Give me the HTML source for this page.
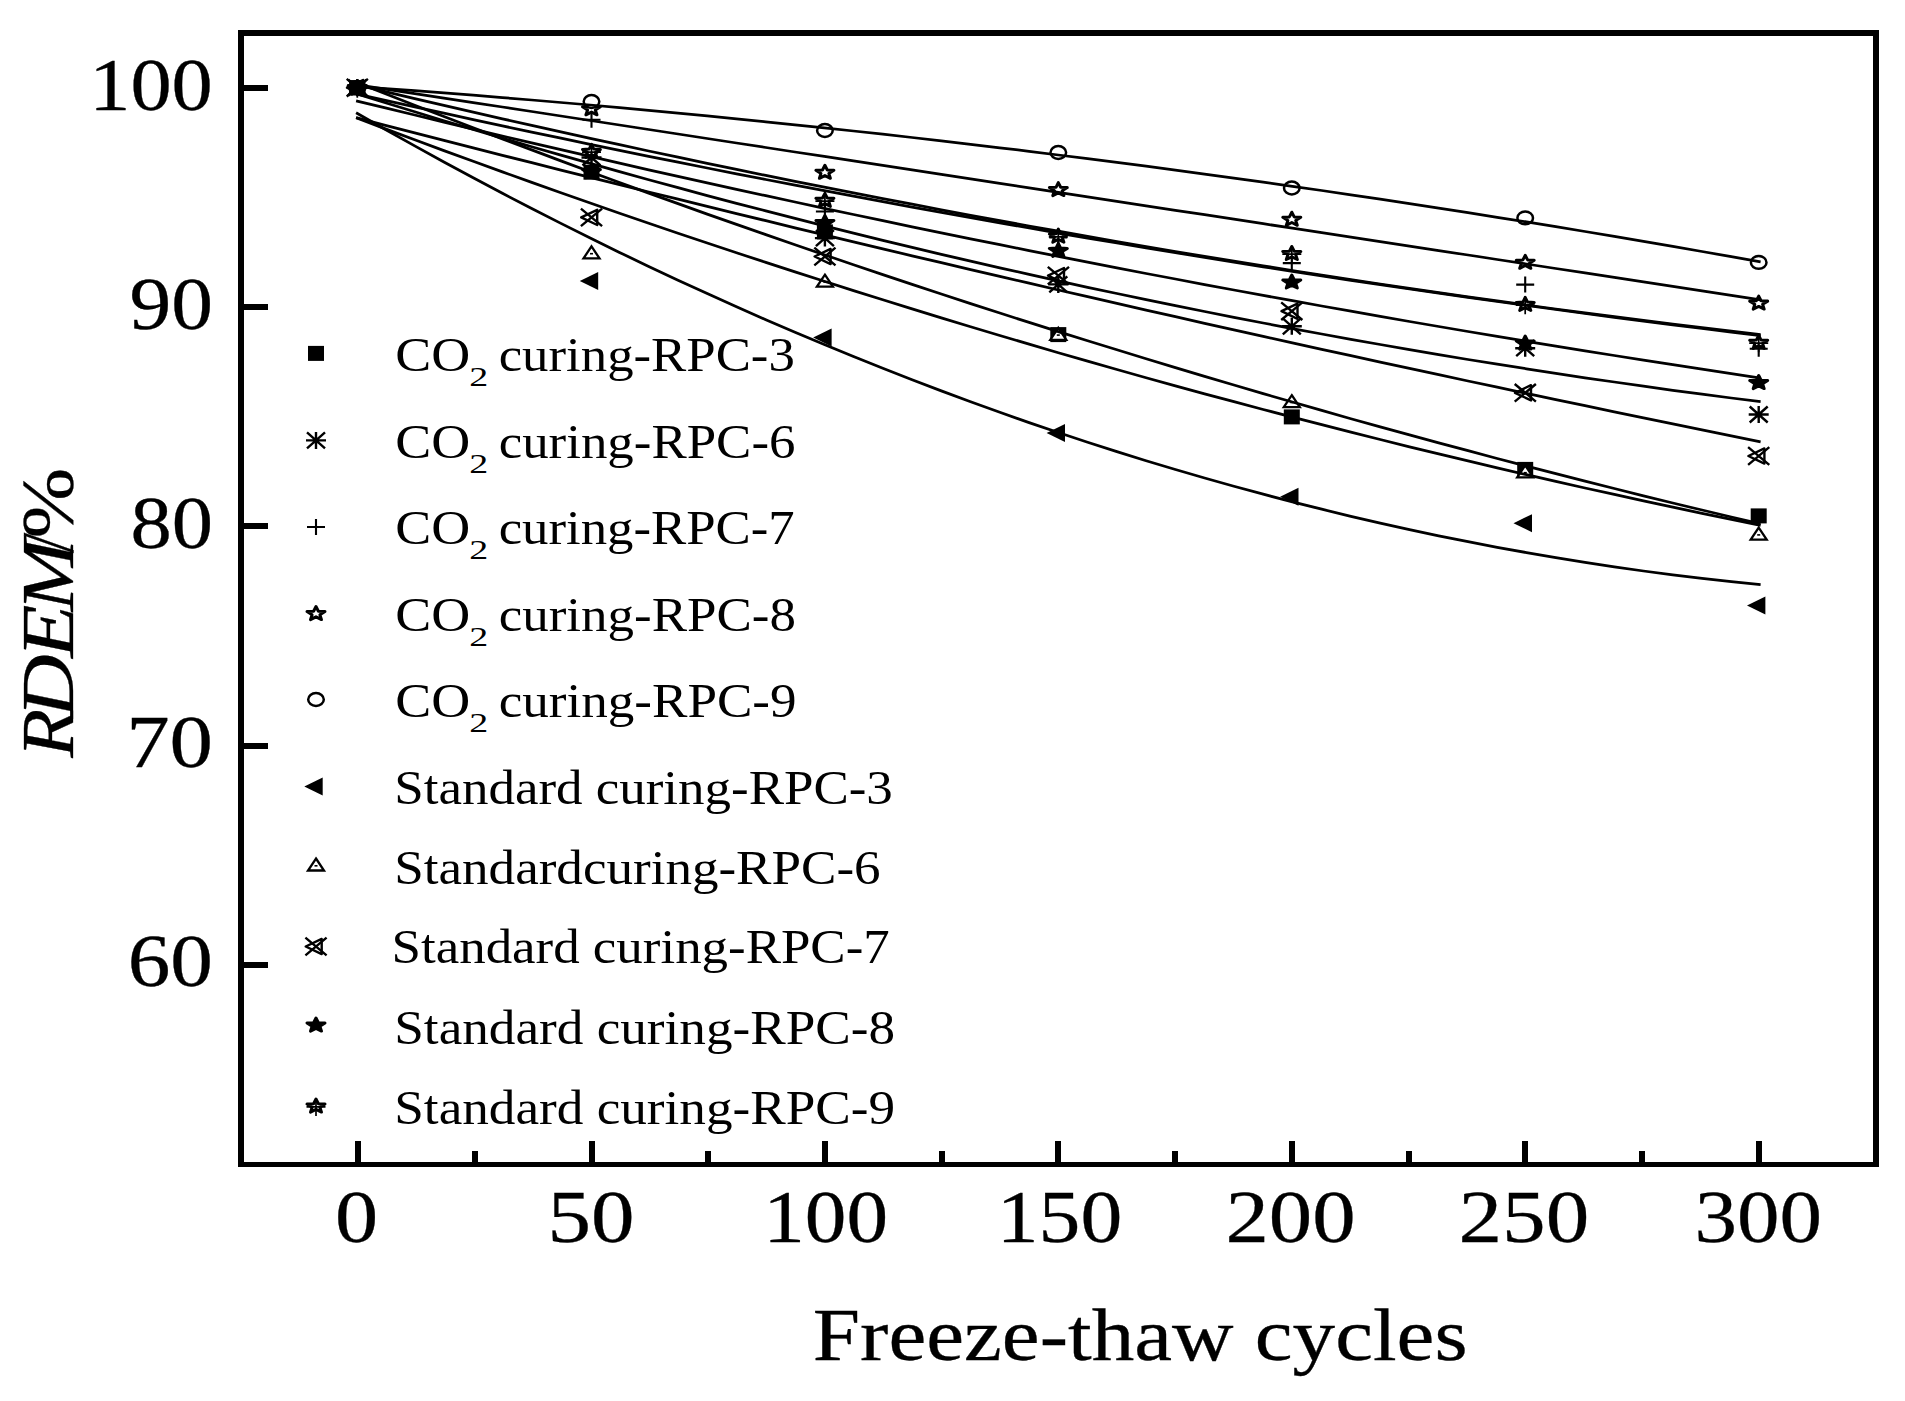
<!DOCTYPE html>
<html><head><meta charset="utf-8"><title>RDEM vs Freeze-thaw cycles</title>
<style>html,body{margin:0;padding:0;background:#fff;}svg{display:block;}</style>
</head><body>
<svg width="1905" height="1401" viewBox="0 0 1905 1401">
<rect x="0" y="0" width="1905" height="1401" fill="#fff"/>
<g fill="#000" shape-rendering="crispEdges">
<rect x="238" y="30" width="1641" height="6"/>
<rect x="238" y="1162" width="1641" height="5"/>
<rect x="238" y="30" width="6" height="1137"/>
<rect x="1873" y="30" width="6" height="1137"/>
<rect x="244" y="84.9" width="24" height="6"/>
<rect x="244" y="304.2" width="24" height="6"/>
<rect x="244" y="523.4" width="24" height="6"/>
<rect x="244" y="742.7" width="24" height="6"/>
<rect x="244" y="961.9" width="24" height="6"/>
<rect x="355.0" y="1141" width="6" height="21"/>
<rect x="471.7" y="1151" width="6" height="11"/>
<rect x="588.5" y="1141" width="6" height="21"/>
<rect x="705.2" y="1151" width="6" height="11"/>
<rect x="821.9" y="1141" width="6" height="21"/>
<rect x="938.6" y="1151" width="6" height="11"/>
<rect x="1055.3" y="1141" width="6" height="21"/>
<rect x="1172.1" y="1151" width="6" height="11"/>
<rect x="1288.8" y="1141" width="6" height="21"/>
<rect x="1405.5" y="1151" width="6" height="11"/>
<rect x="1522.2" y="1141" width="6" height="21"/>
<rect x="1639.0" y="1151" width="6" height="11"/>
<rect x="1755.7" y="1141" width="6" height="21"/>
</g>
<g>
<rect x="349.3" y="80.2" width="16" height="15" fill="#000"/>
<rect x="583.5" y="164.7" width="16" height="15" fill="#000"/>
<rect x="816.9" y="224.4" width="16" height="15" fill="#000"/>
<rect x="1050.3" y="327.1" width="16" height="15" fill="#000"/>
<rect x="1283.8" y="409.4" width="16" height="15" fill="#000"/>
<rect x="1517.2" y="461.9" width="16" height="15" fill="#000"/>
<rect x="1750.7" y="508.4" width="16" height="15" fill="#000"/>
<path d="M347.3,87.7h20M357.3,79.2v17M348.3,79.7l18,16M348.3,95.7l18,-16" stroke="#000" stroke-width="2.4" fill="none"/>
<path d="M581.5,157.5h20M591.5,149.0v17M582.5,149.5l18,16M582.5,165.5l18,-16" stroke="#000" stroke-width="2.4" fill="none"/>
<path d="M814.9,238.1h20M824.9,229.6v17M815.9,230.1l18,16M815.9,246.1l18,-16" stroke="#000" stroke-width="2.4" fill="none"/>
<path d="M1048.3,284.4h20M1058.3,275.9v17M1049.3,276.4l18,16M1049.3,292.4l18,-16" stroke="#000" stroke-width="2.4" fill="none"/>
<path d="M1281.8,326.3h20M1291.8,317.8v17M1282.8,318.3l18,16M1282.8,334.3l18,-16" stroke="#000" stroke-width="2.4" fill="none"/>
<path d="M1515.2,348.2h20M1525.2,339.7v17M1516.2,340.2l18,16M1516.2,356.2l18,-16" stroke="#000" stroke-width="2.4" fill="none"/>
<path d="M1748.7,414.5h20M1758.7,406.0v17M1749.7,406.5l18,16M1749.7,422.5l18,-16" stroke="#000" stroke-width="2.4" fill="none"/>
<path d="M348.3,87.7h18M357.3,79.7v16" stroke="#000" stroke-width="2.1" fill="none"/>
<path d="M582.5,119.7h18M591.5,111.7v16" stroke="#000" stroke-width="2.1" fill="none"/>
<path d="M815.9,211.5h18M824.9,203.5v16" stroke="#000" stroke-width="2.1" fill="none"/>
<path d="M1049.3,237.4h18M1058.3,229.4v16" stroke="#000" stroke-width="2.1" fill="none"/>
<path d="M1282.8,263.1h18M1291.8,255.1v16" stroke="#000" stroke-width="2.1" fill="none"/>
<path d="M1516.2,284.6h18M1525.2,276.6v16" stroke="#000" stroke-width="2.1" fill="none"/>
<path d="M1749.7,348.7h18M1758.7,340.7v16" stroke="#000" stroke-width="2.1" fill="none"/>
<path d="M357.3,80.8L359.7,85.4L366.3,85.7L361.2,88.9L362.8,93.8L357.3,91.0L351.8,93.8L353.4,88.9L348.3,85.7L354.9,85.4Z" fill="#fff" stroke="#000" stroke-width="3.0" stroke-linejoin="round"/>
<path d="M591.5,101.8L593.8,106.5L600.4,106.8L595.3,110.0L597.0,114.8L591.5,112.1L585.9,114.8L587.6,110.0L582.5,106.8L589.1,106.5Z" fill="#fff" stroke="#000" stroke-width="3.0" stroke-linejoin="round"/>
<path d="M824.9,165.3L827.3,170.0L833.9,170.2L828.8,173.4L830.4,178.3L824.9,175.6L819.4,178.3L821.0,173.4L815.9,170.2L822.5,170.0Z" fill="#fff" stroke="#000" stroke-width="3.0" stroke-linejoin="round"/>
<path d="M1058.3,182.6L1060.7,187.3L1067.3,187.6L1062.2,190.8L1063.9,195.6L1058.3,192.9L1052.8,195.6L1054.5,190.8L1049.4,187.6L1056.0,187.3Z" fill="#fff" stroke="#000" stroke-width="3.0" stroke-linejoin="round"/>
<path d="M1291.8,212.2L1294.2,216.9L1300.8,217.2L1295.7,220.4L1297.3,225.3L1291.8,222.5L1286.3,225.3L1287.9,220.4L1282.8,217.2L1289.4,216.9Z" fill="#fff" stroke="#000" stroke-width="3.0" stroke-linejoin="round"/>
<path d="M1525.2,255.3L1527.6,259.9L1534.2,260.2L1529.1,263.4L1530.8,268.3L1525.2,265.5L1519.7,268.3L1521.4,263.4L1516.3,260.2L1522.9,259.9Z" fill="#fff" stroke="#000" stroke-width="3.0" stroke-linejoin="round"/>
<path d="M1758.7,296.1L1761.1,300.8L1767.7,301.1L1762.6,304.2L1764.2,309.1L1758.7,306.4L1753.2,309.1L1754.8,304.2L1749.7,301.1L1756.3,300.8Z" fill="#fff" stroke="#000" stroke-width="3.0" stroke-linejoin="round"/>
<ellipse cx="357.3" cy="87.7" rx="7.8" ry="6.4" fill="#fff" stroke="#000" stroke-width="2.5"/>
<ellipse cx="591.5" cy="101.5" rx="7.8" ry="6.4" fill="#fff" stroke="#000" stroke-width="2.5"/>
<ellipse cx="824.9" cy="130.5" rx="7.8" ry="6.4" fill="#fff" stroke="#000" stroke-width="2.5"/>
<ellipse cx="1058.3" cy="152.5" rx="7.8" ry="6.4" fill="#fff" stroke="#000" stroke-width="2.5"/>
<ellipse cx="1291.8" cy="188.0" rx="7.8" ry="6.4" fill="#fff" stroke="#000" stroke-width="2.5"/>
<ellipse cx="1525.2" cy="217.9" rx="7.8" ry="6.4" fill="#fff" stroke="#000" stroke-width="2.5"/>
<ellipse cx="1758.7" cy="262.4" rx="7.8" ry="6.4" fill="#fff" stroke="#000" stroke-width="2.5"/>
<polygon points="345.6,87.7 364.0,78.7 364.0,96.7" fill="#000"/>
<polygon points="579.8,280.9 598.2,271.9 598.2,289.9" fill="#000"/>
<polygon points="813.2,337.5 831.6,328.5 831.6,346.5" fill="#000"/>
<polygon points="1046.6,433.0 1065.0,424.0 1065.0,442.0" fill="#000"/>
<polygon points="1280.1,496.8 1298.5,487.8 1298.5,505.8" fill="#000"/>
<polygon points="1513.5,523.2 1532.0,514.2 1532.0,532.2" fill="#000"/>
<polygon points="1747.0,605.5 1765.4,596.5 1765.4,614.5" fill="#000"/>
<polygon points="357.3,82.2 365.3,94.2 349.3,94.2" fill="#fff" stroke="#000" stroke-width="2.3"/><rect x="355.8" y="88.7" width="3" height="1.6" fill="#000"/>
<polygon points="591.5,246.4 599.5,258.4 583.5,258.4" fill="#fff" stroke="#000" stroke-width="2.3"/><rect x="590.0" y="252.9" width="3" height="1.6" fill="#000"/>
<polygon points="824.9,274.7 832.9,286.7 816.9,286.7" fill="#fff" stroke="#000" stroke-width="2.3"/><rect x="823.4" y="281.2" width="3" height="1.6" fill="#000"/>
<polygon points="1058.3,327.8 1066.3,339.8 1050.3,339.8" fill="#fff" stroke="#000" stroke-width="2.3"/><rect x="1056.8" y="334.3" width="3" height="1.6" fill="#000"/>
<polygon points="1291.8,395.2 1299.8,407.2 1283.8,407.2" fill="#fff" stroke="#000" stroke-width="2.3"/><rect x="1290.3" y="401.7" width="3" height="1.6" fill="#000"/>
<polygon points="1525.2,465.4 1533.2,477.4 1517.2,477.4" fill="#fff" stroke="#000" stroke-width="2.3"/><rect x="1523.8" y="471.9" width="3" height="1.6" fill="#000"/>
<polygon points="1758.7,527.6 1766.7,539.6 1750.7,539.6" fill="#fff" stroke="#000" stroke-width="2.3"/><rect x="1757.2" y="534.1" width="3" height="1.6" fill="#000"/>
<path d="M346.7,78.9l21.2,17.6M346.7,96.5l21.2,-17.6" stroke="#000" stroke-width="2.4" fill="none"/><polygon points="347.0,87.7 363.0,80.1 363.0,95.3" fill="none" stroke="#000" stroke-width="2.4" stroke-linejoin="round"/>
<path d="M580.9,208.6l21.2,17.6M580.9,226.2l21.2,-17.6" stroke="#000" stroke-width="2.4" fill="none"/><polygon points="581.2,217.4 597.2,209.8 597.2,225.0" fill="none" stroke="#000" stroke-width="2.4" stroke-linejoin="round"/>
<path d="M814.3,247.7l21.2,17.6M814.3,265.3l21.2,-17.6" stroke="#000" stroke-width="2.4" fill="none"/><polygon points="814.6,256.5 830.6,248.9 830.6,264.1" fill="none" stroke="#000" stroke-width="2.4" stroke-linejoin="round"/>
<path d="M1047.8,266.8l21.2,17.6M1047.8,284.4l21.2,-17.6" stroke="#000" stroke-width="2.4" fill="none"/><polygon points="1048.0,275.6 1064.0,268.0 1064.0,283.2" fill="none" stroke="#000" stroke-width="2.4" stroke-linejoin="round"/>
<path d="M1281.2,302.4l21.2,17.6M1281.2,320.0l21.2,-17.6" stroke="#000" stroke-width="2.4" fill="none"/><polygon points="1281.5,311.2 1297.5,303.6 1297.5,318.8" fill="none" stroke="#000" stroke-width="2.4" stroke-linejoin="round"/>
<path d="M1514.7,384.0l21.2,17.6M1514.7,401.6l21.2,-17.6" stroke="#000" stroke-width="2.4" fill="none"/><polygon points="1515.0,392.8 1531.0,385.2 1531.0,400.4" fill="none" stroke="#000" stroke-width="2.4" stroke-linejoin="round"/>
<path d="M1748.1,447.2l21.2,17.6M1748.1,464.8l21.2,-17.6" stroke="#000" stroke-width="2.4" fill="none"/><polygon points="1748.4,456.0 1764.4,448.4 1764.4,463.6" fill="none" stroke="#000" stroke-width="2.4" stroke-linejoin="round"/>
<path d="M357.3,80.8L359.7,85.4L366.3,85.7L361.2,88.9L362.8,93.8L357.3,91.0L351.8,93.8L353.4,88.9L348.3,85.7L354.9,85.4Z" fill="#000" stroke="#000" stroke-width="3.0" stroke-linejoin="round"/>
<path d="M591.5,164.6L593.8,169.3L600.4,169.6L595.3,172.8L597.0,177.6L591.5,174.9L585.9,177.6L587.6,172.8L582.5,169.6L589.1,169.3Z" fill="#000" stroke="#000" stroke-width="3.0" stroke-linejoin="round"/>
<path d="M824.9,215.5L827.3,220.2L833.9,220.5L828.8,223.7L830.4,228.5L824.9,225.8L819.4,228.5L821.0,223.7L815.9,220.5L822.5,220.2Z" fill="#000" stroke="#000" stroke-width="3.0" stroke-linejoin="round"/>
<path d="M1058.3,243.4L1060.7,248.1L1067.3,248.4L1062.2,251.6L1063.9,256.4L1058.3,253.7L1052.8,256.4L1054.5,251.6L1049.4,248.4L1056.0,248.1Z" fill="#000" stroke="#000" stroke-width="3.0" stroke-linejoin="round"/>
<path d="M1291.8,275.0L1294.2,279.7L1300.8,280.0L1295.7,283.2L1297.3,288.0L1291.8,285.3L1286.3,288.0L1287.9,283.2L1282.8,280.0L1289.4,279.7Z" fill="#000" stroke="#000" stroke-width="3.0" stroke-linejoin="round"/>
<path d="M1525.2,336.0L1527.6,340.7L1534.2,341.0L1529.1,344.2L1530.8,349.1L1525.2,346.3L1519.7,349.1L1521.4,344.2L1516.3,341.0L1522.9,340.7Z" fill="#000" stroke="#000" stroke-width="3.0" stroke-linejoin="round"/>
<path d="M1758.7,375.5L1761.1,380.2L1767.7,380.5L1762.6,383.7L1764.2,388.6L1758.7,385.8L1753.2,388.6L1754.8,383.7L1749.7,380.5L1756.3,380.2Z" fill="#000" stroke="#000" stroke-width="3.0" stroke-linejoin="round"/>
<path d="M357.3,80.8L359.7,85.4L366.3,85.7L361.2,88.9L362.8,93.8L357.3,91.0L351.8,93.8L353.4,88.9L348.3,85.7L354.9,85.4Z" fill="#fff" stroke="#000" stroke-width="3.0" stroke-linejoin="round"/><path d="M347.8,88.5h19M357.3,79.7v18" stroke="#000" stroke-width="1.7" fill="none"/>
<path d="M591.5,144.4L593.8,149.1L600.4,149.4L595.3,152.6L597.0,157.4L591.5,154.7L585.9,157.4L587.6,152.6L582.5,149.4L589.1,149.1Z" fill="#fff" stroke="#000" stroke-width="3.0" stroke-linejoin="round"/><path d="M582.0,152.2h19M591.5,143.4v18" stroke="#000" stroke-width="1.7" fill="none"/>
<path d="M824.9,193.4L827.3,198.0L833.9,198.3L828.8,201.5L830.4,206.4L824.9,203.6L819.4,206.4L821.0,201.5L815.9,198.3L822.5,198.0Z" fill="#fff" stroke="#000" stroke-width="3.0" stroke-linejoin="round"/><path d="M815.4,201.1h19M824.9,192.3v18" stroke="#000" stroke-width="1.7" fill="none"/>
<path d="M1058.3,229.1L1060.7,233.8L1067.3,234.1L1062.2,237.3L1063.9,242.2L1058.3,239.4L1052.8,242.2L1054.5,237.3L1049.4,234.1L1056.0,233.8Z" fill="#fff" stroke="#000" stroke-width="3.0" stroke-linejoin="round"/><path d="M1048.8,236.9h19M1058.3,228.1v18" stroke="#000" stroke-width="1.7" fill="none"/>
<path d="M1291.8,246.5L1294.2,251.2L1300.8,251.4L1295.7,254.6L1297.3,259.5L1291.8,256.8L1286.3,259.5L1287.9,254.6L1282.8,251.4L1289.4,251.2Z" fill="#fff" stroke="#000" stroke-width="3.0" stroke-linejoin="round"/><path d="M1282.3,254.2h19M1291.8,245.4v18" stroke="#000" stroke-width="1.7" fill="none"/>
<path d="M1525.2,297.4L1527.6,302.1L1534.2,302.4L1529.1,305.6L1530.8,310.4L1525.2,307.7L1519.7,310.4L1521.4,305.6L1516.3,302.4L1522.9,302.1Z" fill="#fff" stroke="#000" stroke-width="3.0" stroke-linejoin="round"/><path d="M1515.8,305.1h19M1525.2,296.3v18" stroke="#000" stroke-width="1.7" fill="none"/>
<path d="M1758.7,335.4L1761.1,340.1L1767.7,340.3L1762.6,343.5L1764.2,348.4L1758.7,345.7L1753.2,348.4L1754.8,343.5L1749.7,340.3L1756.3,340.1Z" fill="#fff" stroke="#000" stroke-width="3.0" stroke-linejoin="round"/><path d="M1749.2,343.1h19M1758.7,334.3v18" stroke="#000" stroke-width="1.7" fill="none"/>
<rect x="349.3" y="80.2" width="16" height="15" fill="#000"/>
</g>
<g fill="none" stroke="#000" stroke-width="2.75">
<polyline points="356.1,86.5 385.4,88.6 414.7,90.7 443.9,92.9 473.2,95.2 502.4,97.6 531.7,100.0 560.9,102.5 590.2,105.0 619.5,107.7 648.7,110.3 678.0,113.1 707.2,115.9 736.5,118.8 765.8,121.8 795.0,124.8 824.3,127.9 853.5,131.0 882.8,134.2 912.1,137.5 941.3,140.9 970.6,144.3 999.8,147.8 1029.1,151.3 1058.3,155.0 1087.6,158.6 1116.9,162.4 1146.1,166.2 1175.4,170.1 1204.6,174.1 1233.9,178.1 1263.2,182.2 1292.4,186.3 1321.7,190.5 1350.9,194.8 1380.2,199.2 1409.5,203.6 1438.7,208.1 1468.0,212.6 1497.2,217.3 1526.5,221.9 1555.8,226.7 1585.0,231.5 1614.3,236.4 1643.5,241.4 1672.8,246.4 1702.0,251.5 1731.3,256.6 1760.6,261.8"/>
<polyline points="356.1,84.6 385.4,89.1 414.7,93.6 443.9,98.1 473.2,102.6 502.4,107.0 531.7,111.5 560.9,116.0 590.2,120.5 619.5,125.0 648.7,129.5 678.0,134.0 707.2,138.5 736.5,143.0 765.8,147.5 795.0,152.0 824.3,156.4 853.5,160.9 882.8,165.4 912.1,169.9 941.3,174.4 970.6,178.9 999.8,183.4 1029.1,187.8 1058.3,192.3 1087.6,196.8 1116.9,201.3 1146.1,205.8 1175.4,210.3 1204.6,214.7 1233.9,219.2 1263.2,223.7 1292.4,228.2 1321.7,232.7 1350.9,237.1 1380.2,241.6 1409.5,246.1 1438.7,250.6 1468.0,255.0 1497.2,259.5 1526.5,264.0 1555.8,268.5 1585.0,272.9 1614.3,277.4 1643.5,281.9 1672.8,286.4 1702.0,290.8 1731.3,295.3 1760.6,299.8"/>
<polyline points="356.1,84.7 385.4,91.7 414.7,98.6 443.9,105.4 473.2,112.1 502.4,118.8 531.7,125.4 560.9,131.9 590.2,138.3 619.5,144.7 648.7,151.0 678.0,157.2 707.2,163.3 736.5,169.4 765.8,175.4 795.0,181.3 824.3,187.2 853.5,192.9 882.8,198.6 912.1,204.2 941.3,209.8 970.6,215.3 999.8,220.7 1029.1,226.0 1058.3,231.2 1087.6,236.4 1116.9,241.5 1146.1,246.5 1175.4,251.5 1204.6,256.3 1233.9,261.1 1263.2,265.8 1292.4,270.5 1321.7,275.1 1350.9,279.6 1380.2,284.0 1409.5,288.3 1438.7,292.6 1468.0,296.8 1497.2,300.9 1526.5,305.0 1555.8,309.0 1585.0,312.9 1614.3,316.7 1643.5,320.4 1672.8,324.1 1702.0,327.7 1731.3,331.2 1760.6,334.7"/>
<polyline points="356.1,93.8 385.4,100.4 414.7,106.8 443.9,113.2 473.2,119.6 502.4,125.9 531.7,132.1 560.9,138.2 590.2,144.3 619.5,150.3 648.7,156.3 678.0,162.2 707.2,168.0 736.5,173.8 765.8,179.5 795.0,185.1 824.3,190.7 853.5,196.2 882.8,201.7 912.1,207.1 941.3,212.4 970.6,217.7 999.8,222.9 1029.1,228.0 1058.3,233.1 1087.6,238.1 1116.9,243.0 1146.1,247.9 1175.4,252.7 1204.6,257.5 1233.9,262.2 1263.2,266.8 1292.4,271.3 1321.7,275.8 1350.9,280.3 1380.2,284.6 1409.5,289.0 1438.7,293.2 1468.0,297.4 1497.2,301.5 1526.5,305.5 1555.8,309.5 1585.0,313.5 1614.3,317.3 1643.5,321.1 1672.8,324.9 1702.0,328.5 1731.3,332.1 1760.6,335.7"/>
<polyline points="356.1,100.8 385.4,107.9 414.7,115.0 443.9,122.1 473.2,129.1 502.4,136.0 531.7,142.9 560.9,149.7 590.2,156.4 619.5,163.1 648.7,169.8 678.0,176.3 707.2,182.8 736.5,189.3 765.8,195.7 795.0,202.0 824.3,208.3 853.5,214.5 882.8,220.7 912.1,226.8 941.3,232.8 970.6,238.8 999.8,244.7 1029.1,250.6 1058.3,256.4 1087.6,262.2 1116.9,267.8 1146.1,273.5 1175.4,279.0 1204.6,284.6 1233.9,290.0 1263.2,295.4 1292.4,300.7 1321.7,306.0 1350.9,311.2 1380.2,316.4 1409.5,321.5 1438.7,326.5 1468.0,331.5 1497.2,336.4 1526.5,341.3 1555.8,346.1 1585.0,350.8 1614.3,355.5 1643.5,360.2 1672.8,364.7 1702.0,369.2 1731.3,373.7 1760.6,378.1"/>
<polyline points="356.1,93.6 385.4,102.7 414.7,111.8 443.9,120.7 473.2,129.4 502.4,138.1 531.7,146.7 560.9,155.1 590.2,163.4 619.5,171.6 648.7,179.7 678.0,187.7 707.2,195.6 736.5,203.3 765.8,210.9 795.0,218.4 824.3,225.8 853.5,233.1 882.8,240.3 912.1,247.3 941.3,254.3 970.6,261.1 999.8,267.8 1029.1,274.4 1058.3,280.9 1087.6,287.3 1116.9,293.5 1146.1,299.6 1175.4,305.6 1204.6,311.5 1233.9,317.3 1263.2,323.0 1292.4,328.6 1321.7,334.0 1350.9,339.3 1380.2,344.5 1409.5,349.6 1438.7,354.6 1468.0,359.5 1497.2,364.2 1526.5,368.8 1555.8,373.4 1585.0,377.8 1614.3,382.0 1643.5,386.2 1672.8,390.3 1702.0,394.2 1731.3,398.0 1760.6,401.7"/>
<polyline points="356.1,117.7 385.4,125.3 414.7,132.9 443.9,140.4 473.2,147.9 502.4,155.3 531.7,162.7 560.9,170.1 590.2,177.4 619.5,184.7 648.7,192.0 678.0,199.2 707.2,206.4 736.5,213.6 765.8,220.7 795.0,227.8 824.3,234.8 853.5,241.8 882.8,248.8 912.1,255.8 941.3,262.7 970.6,269.6 999.8,276.4 1029.1,283.2 1058.3,290.0 1087.6,296.7 1116.9,303.4 1146.1,310.1 1175.4,316.7 1204.6,323.3 1233.9,329.8 1263.2,336.4 1292.4,342.8 1321.7,349.3 1350.9,355.7 1380.2,362.1 1409.5,368.4 1438.7,374.7 1468.0,381.0 1497.2,387.2 1526.5,393.4 1555.8,399.6 1585.0,405.7 1614.3,411.8 1643.5,417.9 1672.8,423.9 1702.0,429.9 1731.3,435.8 1760.6,441.8"/>
<polyline points="356.1,82.3 385.4,93.8 414.7,105.2 443.9,116.5 473.2,127.8 502.4,138.9 531.7,149.9 560.9,160.9 590.2,171.7 619.5,182.5 648.7,193.1 678.0,203.6 707.2,214.1 736.5,224.4 765.8,234.6 795.0,244.8 824.3,254.8 853.5,264.8 882.8,274.6 912.1,284.4 941.3,294.0 970.6,303.6 999.8,313.0 1029.1,322.4 1058.3,331.6 1087.6,340.8 1116.9,349.8 1146.1,358.8 1175.4,367.6 1204.6,376.4 1233.9,385.0 1263.2,393.6 1292.4,402.0 1321.7,410.4 1350.9,418.7 1380.2,426.8 1409.5,434.9 1438.7,442.8 1468.0,450.7 1497.2,458.5 1526.5,466.1 1555.8,473.7 1585.0,481.2 1614.3,488.5 1643.5,495.8 1672.8,503.0 1702.0,510.0 1731.3,517.0 1760.6,523.9"/>
<polyline points="356.1,117.8 385.4,128.9 414.7,139.8 443.9,150.6 473.2,161.3 502.4,171.9 531.7,182.4 560.9,192.8 590.2,203.0 619.5,213.2 648.7,223.3 678.0,233.2 707.2,243.0 736.5,252.8 765.8,262.4 795.0,271.9 824.3,281.3 853.5,290.6 882.8,299.8 912.1,308.9 941.3,317.9 970.6,326.7 999.8,335.5 1029.1,344.1 1058.3,352.7 1087.6,361.1 1116.9,369.5 1146.1,377.7 1175.4,385.8 1204.6,393.8 1233.9,401.7 1263.2,409.5 1292.4,417.1 1321.7,424.7 1350.9,432.2 1380.2,439.5 1409.5,446.8 1438.7,453.9 1468.0,460.9 1497.2,467.8 1526.5,474.7 1555.8,481.4 1585.0,488.0 1614.3,494.4 1643.5,500.8 1672.8,507.1 1702.0,513.3 1731.3,519.3 1760.6,525.3"/>
<polyline points="356.1,112.8 385.4,129.5 414.7,145.9 443.9,162.0 473.2,177.8 502.4,193.3 531.7,208.5 560.9,223.4 590.2,238.0 619.5,252.4 648.7,266.4 678.0,280.2 707.2,293.6 736.5,306.8 765.8,319.7 795.0,332.3 824.3,344.6 853.5,356.6 882.8,368.3 912.1,379.7 941.3,390.9 970.6,401.7 999.8,412.3 1029.1,422.6 1058.3,432.5 1087.6,442.2 1116.9,451.6 1146.1,460.7 1175.4,469.5 1204.6,478.0 1233.9,486.3 1263.2,494.2 1292.4,501.9 1321.7,509.2 1350.9,516.3 1380.2,523.1 1409.5,529.6 1438.7,535.8 1468.0,541.7 1497.2,547.3 1526.5,552.6 1555.8,557.6 1585.0,562.4 1614.3,566.8 1643.5,571.0 1672.8,574.8 1702.0,578.4 1731.3,581.7 1760.6,584.7"/>
</g>
<g>
<rect x="308.0" y="345.9" width="16" height="15" fill="#000"/>
<path d="M306.0,440.4h20M316.0,431.9v17M307.0,432.4l18,16M307.0,448.4l18,-16" stroke="#000" stroke-width="2.4" fill="none"/>
<path d="M307.0,527.0h18M316.0,519.0v16" stroke="#000" stroke-width="2.1" fill="none"/>
<path d="M316.0,606.5L318.4,611.2L325.0,611.5L319.9,614.7L321.5,619.6L316.0,616.8L310.5,619.6L312.1,614.7L307.0,611.5L313.6,611.2Z" fill="#fff" stroke="#000" stroke-width="3.0" stroke-linejoin="round"/>
<ellipse cx="316.0" cy="699.5" rx="7.8" ry="6.4" fill="#fff" stroke="#000" stroke-width="2.5"/>
<polygon points="304.3,786.5 322.7,777.5 322.7,795.5" fill="#000"/>
<polygon points="316.0,858.5 324.0,870.5 308.0,870.5" fill="#fff" stroke="#000" stroke-width="2.3"/><rect x="314.5" y="865.0" width="3" height="1.6" fill="#000"/>
<path d="M305.4,937.7l21.2,17.6M305.4,955.3l21.2,-17.6" stroke="#000" stroke-width="2.4" fill="none"/><polygon points="305.7,946.5 321.7,938.9 321.7,954.1" fill="none" stroke="#000" stroke-width="2.4" stroke-linejoin="round"/>
<path d="M316.0,1018.0L318.4,1022.7L325.0,1023.0L319.9,1026.2L321.5,1031.1L316.0,1028.3L310.5,1031.1L312.1,1026.2L307.0,1023.0L313.6,1022.7Z" fill="#000" stroke="#000" stroke-width="3.0" stroke-linejoin="round"/>
<path d="M316.0,1099.0L318.4,1103.7L325.0,1104.0L319.9,1107.2L321.5,1112.1L316.0,1109.3L310.5,1112.1L312.1,1107.2L307.0,1104.0L313.6,1103.7Z" fill="#fff" stroke="#000" stroke-width="3.0" stroke-linejoin="round"/><path d="M306.5,1106.8h19M316.0,1098.0v18" stroke="#000" stroke-width="1.7" fill="none"/>
</g>
<g font-family="'Liberation Serif', 'Times New Roman', serif" fill="#000">
<text font-size="48"><tspan x="395.35" y="371.3" textLength="74.94" lengthAdjust="spacingAndGlyphs">CO</tspan><tspan x="469.25" y="385.9" font-size="28" textLength="18.96" lengthAdjust="spacingAndGlyphs">2</tspan><tspan y="371.3"> </tspan><tspan x="498.70" y="371.3" textLength="296.16" lengthAdjust="spacingAndGlyphs">curing-RPC-3</tspan></text>
<text font-size="48"><tspan x="395.35" y="458.0" textLength="74.94" lengthAdjust="spacingAndGlyphs">CO</tspan><tspan x="469.25" y="472.6" font-size="28" textLength="18.96" lengthAdjust="spacingAndGlyphs">2</tspan><tspan y="458.0"> </tspan><tspan x="498.70" y="458.0" textLength="296.77" lengthAdjust="spacingAndGlyphs">curing-RPC-6</tspan></text>
<text font-size="48"><tspan x="395.35" y="544.3" textLength="74.94" lengthAdjust="spacingAndGlyphs">CO</tspan><tspan x="469.25" y="558.9" font-size="28" textLength="18.96" lengthAdjust="spacingAndGlyphs">2</tspan><tspan y="544.3"> </tspan><tspan x="498.70" y="544.3" textLength="296.06" lengthAdjust="spacingAndGlyphs">curing-RPC-7</tspan></text>
<text font-size="48"><tspan x="395.35" y="631.0" textLength="74.94" lengthAdjust="spacingAndGlyphs">CO</tspan><tspan x="469.25" y="645.6" font-size="28" textLength="18.96" lengthAdjust="spacingAndGlyphs">2</tspan><tspan y="631.0"> </tspan><tspan x="498.69" y="631.0" textLength="297.18" lengthAdjust="spacingAndGlyphs">curing-RPC-8</tspan></text>
<text font-size="48"><tspan x="395.35" y="717.3" textLength="74.94" lengthAdjust="spacingAndGlyphs">CO</tspan><tspan x="469.25" y="731.9" font-size="28" textLength="18.96" lengthAdjust="spacingAndGlyphs">2</tspan><tspan y="717.3"> </tspan><tspan x="498.69" y="717.3" textLength="297.89" lengthAdjust="spacingAndGlyphs">curing-RPC-9</tspan></text>
<text x="394.29" y="803.8" font-size="48" textLength="498.56" lengthAdjust="spacingAndGlyphs">Standard curing-RPC-3</text>
<text x="394.28" y="883.8" font-size="48" textLength="486.37" lengthAdjust="spacingAndGlyphs">Standardcuring-RPC-6</text>
<text x="391.59" y="963.4" font-size="48" textLength="498.16" lengthAdjust="spacingAndGlyphs">Standard curing-RPC-7</text>
<text x="394.28" y="1044.0" font-size="48" textLength="500.89" lengthAdjust="spacingAndGlyphs">Standard curing-RPC-8</text>
<text x="394.28" y="1123.6" font-size="48" textLength="500.89" lengthAdjust="spacingAndGlyphs">Standard curing-RPC-9</text>
<text x="89.28" y="109.7" font-size="73.5" textLength="123.44" lengthAdjust="spacingAndGlyphs" stroke="#000" stroke-width="0.3">100</text>
<text x="129.48" y="329.0" font-size="73.5" textLength="83.46" lengthAdjust="spacingAndGlyphs" stroke="#000" stroke-width="0.3">90</text>
<text x="130.43" y="548.2" font-size="73.5" textLength="82.47" lengthAdjust="spacingAndGlyphs" stroke="#000" stroke-width="0.3">80</text>
<text x="126.19" y="766.9" font-size="73.5" textLength="86.86" lengthAdjust="spacingAndGlyphs" stroke="#000" stroke-width="0.3">70</text>
<text x="127.72" y="986.1" font-size="73.5" textLength="85.28" lengthAdjust="spacingAndGlyphs" stroke="#000" stroke-width="0.3">60</text>
<text x="335.08" y="1242.0" font-size="73.5" textLength="43.15" lengthAdjust="spacingAndGlyphs" stroke="#000" stroke-width="0.3">0</text>
<text x="547.56" y="1242.0" font-size="73.5" textLength="87.10" lengthAdjust="spacingAndGlyphs" stroke="#000" stroke-width="0.3">50</text>
<text x="763.21" y="1242.0" font-size="73.5" textLength="124.84" lengthAdjust="spacingAndGlyphs" stroke="#000" stroke-width="0.3">100</text>
<text x="996.77" y="1242.0" font-size="73.5" textLength="125.49" lengthAdjust="spacingAndGlyphs" stroke="#000" stroke-width="0.3">150</text>
<text x="1225.46" y="1242.0" font-size="73.5" textLength="130.20" lengthAdjust="spacingAndGlyphs" stroke="#000" stroke-width="0.3">200</text>
<text x="1458.44" y="1242.0" font-size="73.5" textLength="130.83" lengthAdjust="spacingAndGlyphs" stroke="#000" stroke-width="0.3">250</text>
<text x="1694.53" y="1242.0" font-size="73.5" textLength="127.47" lengthAdjust="spacingAndGlyphs" stroke="#000" stroke-width="0.3">300</text>
<text x="812.77" y="1360.0" font-size="73" textLength="654.80" lengthAdjust="spacingAndGlyphs" stroke="#000" stroke-width="0.3">Freeze-thaw cycles</text>
<text transform="translate(72.7,760) rotate(-90)" y="0" font-size="74" stroke="#000" stroke-width="0.3"><tspan x="2.38" font-style="italic" textLength="48.92" lengthAdjust="spacingAndGlyphs">R</tspan><tspan x="42.39" font-style="italic" textLength="63.45" lengthAdjust="spacingAndGlyphs">D</tspan><tspan x="102.08" font-style="italic" textLength="53.34" lengthAdjust="spacingAndGlyphs">E</tspan><tspan x="148.47" font-style="italic" textLength="72.40" lengthAdjust="spacingAndGlyphs">M</tspan><tspan x="209.16" font-style="italic" textLength="14.11" lengthAdjust="spacingAndGlyphs">/</tspan><tspan x="221.41" font-style="normal" textLength="70.63" lengthAdjust="spacingAndGlyphs">%</tspan></text>
</g>
</svg>
</body></html>
